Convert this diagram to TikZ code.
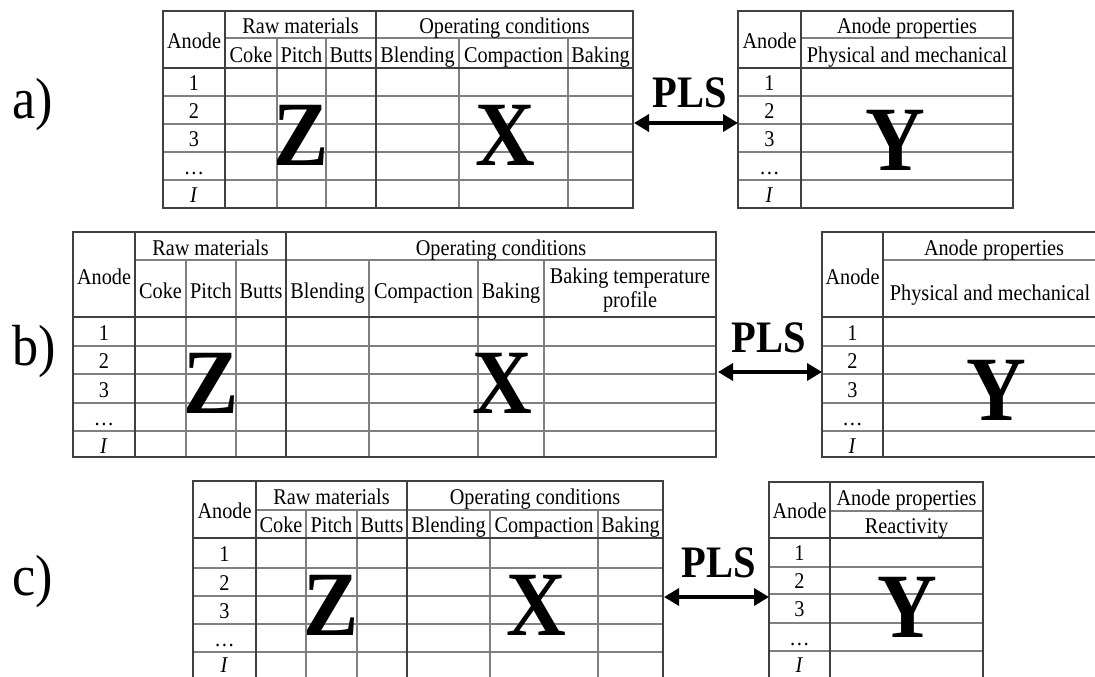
\documentclass[tikz,border=0pt]{standalone}
\usepackage{fontspec}
\setmainfont[FakeStretch=0.9]{Liberation Serif}
\usepackage{tikz}
\usetikzlibrary{arrows.meta, positioning}

\tikzset{
  major/.style={line width=1.7pt, black!75},
  minor/.style={line width=1.1pt, black!50},
  cell/.style={font=\fontsize{22.5}{24}\selectfont, inner sep=0pt, text height=15pt, text depth=0pt},
  twoline/.style={font=\fontsize{22.5}{24}\selectfont, inner sep=0pt, align=center},
  bigletter/.style={font=\fontsize{92}{92}\selectfont\bfseries, inner sep=0pt, anchor=base},
  plslabel/.style={font=\fontsize{45}{45}\selectfont\bfseries, inner sep=0pt, anchor=base},
  panel/.style={font=\fontsize{58}{58}\selectfont, inner sep=0pt},
  link/.style={{Triangle[length=15pt,width=17pt]}-{Triangle[length=15pt,width=17pt]}, line width=3.5pt},
}

\begin{document}
\begin{tikzpicture}[x=1pt, y=-1pt]
  \useasboundingbox (0,0) rectangle (1095,677);
  \clip (0,0) rectangle (1095,677);

  %% ---------------- a) ----------------
  \node[panel] (aLabel) at (33,105) {a)};
  %% input table
  \draw[minor] (225,38) -- (633,38);
  \foreach \x in {277,326,459,568} \draw[minor] (\x,38) -- (\x,208);
  \foreach \y in {96,124,152,180} \draw[minor] (163,\y) -- (633,\y);
  \draw[major] (163,68) -- (633,68);
  \draw[major] (225,11) -- (225,208);
  \draw[major] (376,11) -- (376,208);
  \draw[major] (163,11) rectangle (633,208);
  \node[cell] (aAnode) at (194,41) {Anode};
  \node[cell] (aRaw) at (300.5,26) {Raw materials};
  \node[cell] (aOper) at (504.5,26) {Operating conditions};
  \node[cell] (aCoke) at (251,55) {Coke};
  \node[cell] (aPitch) at (301.5,55) {Pitch};
  \node[cell] (aButts) at (351,55) {Butts};
  \node[cell] (aBlend) at (417.5,55) {Blending};
  \node[cell] (aCompact) at (513.5,55) {Compaction};
  \node[cell] (aBake) at (600.5,55) {Baking};
  \foreach \y/\t [count=\i] in {83/1, 111/2, 139/3, 167/{\dots}, 195/{\textit{I}}}
    \node[cell] (aRow\i) at (194,\y) {\t};
  \node[bigletter] (aZ) at (301,165) {Z};
  \node[bigletter] (aX) at (505,165) {X};
  %% output table
  \draw[minor] (801,38) -- (1013,38);
  \foreach \y in {96,124,152,180} \draw[minor] (738,\y) -- (1013,\y);
  \draw[major] (738,68) -- (1013,68);
  \draw[major] (801,11) -- (801,208);
  \draw[major] (738,11) rectangle (1013,208);
  \node[cell] (aAnodeR) at (769.5,41) {Anode};
  \node[cell] (aProp) at (907,26) {Anode properties};
  \node[cell] (aPhys) at (907,55) {Physical and mechanical};
  \foreach \y/\t [count=\i] in {83/1, 111/2, 139/3, 167/{\dots}, 195/{\textit{I}}}
    \node[cell] (aRowR\i) at (769.5,\y) {\t};
  \node[bigletter] (aY) at (895,170) {Y};
  %% PLS link
  \coordinate (aIn) at (634,123);
  \coordinate (aOut) at (738,123);
  \draw[link] (aIn) -- (aOut);
  \node[plslabel] (aPLS) at (690,107) {PLS};

  %% ---------------- b) ----------------
  \node[panel] (bLabel) at (34,352) {b)};
  %% input table
  \draw[minor] (135,260) -- (716,260);
  \foreach \x in {186,236,369,478,544} \draw[minor] (\x,260) -- (\x,457);
  \foreach \y in {346,374,403,431} \draw[minor] (73,\y) -- (716,\y);
  \draw[major] (73,317) -- (716,317);
  \draw[major] (135,232) -- (135,457);
  \draw[major] (286,232) -- (286,457);
  \draw[major] (73,232) rectangle (716,457);
  \node[cell] (bAnode) at (104,277) {Anode};
  \node[cell] (bRaw) at (210.5,248) {Raw materials};
  \node[cell] (bOper) at (501,248) {Operating conditions};
  \node[cell] (bCoke) at (160.5,291) {Coke};
  \node[cell] (bPitch) at (211,291) {Pitch};
  \node[cell] (bButts) at (261,291) {Butts};
  \node[cell] (bBlend) at (327.5,291) {Blending};
  \node[cell] (bCompact) at (423.5,291) {Compaction};
  \node[cell] (bBake) at (511,291) {Baking};
  \node[twoline] (bProfile) at (630,290) {Baking temperature\\profile};
  \foreach \y/\t [count=\i] in {333/1, 361/2, 390/3, 418/{\dots}, 446/{\textit{I}}}
    \node[cell] (bRow\i) at (104,\y) {\t};
  \node[bigletter] (bZ) at (211,413) {Z};
  \node[bigletter] (bX) at (502,413) {X};
  %% output table
  \draw[minor] (883,260) -- (1105,260);
  \foreach \y in {346,374,403,431} \draw[minor] (822,\y) -- (1105,\y);
  \draw[major] (822,317) -- (1105,317);
  \draw[major] (883,232) -- (883,457);
  \draw[major] (822,232) rectangle (1105,457);
  \node[cell] (bAnodeR) at (852.5,277) {Anode};
  \node[cell] (bProp) at (994,248) {Anode properties};
  \node[cell] (bPhys) at (990,293) {Physical and mechanical};
  \foreach \y/\t [count=\i] in {333/1, 361/2, 390/3, 418/{\dots}, 446/{\textit{I}}}
    \node[cell] (bRowR\i) at (852.5,\y) {\t};
  \node[bigletter] (bY) at (996,420) {Y};
  %% PLS link
  \coordinate (bIn) at (718,372);
  \coordinate (bOut) at (822,372);
  \draw[link] (bIn) -- (bOut);
  \node[plslabel] (bPLS) at (769,352) {PLS};

  %% ---------------- c) ----------------
  \node[panel] (cLabel) at (33,582) {c)};
  %% input table
  \draw[minor] (256,510) -- (663,510);
  \foreach \x in {306,357,490,598} \draw[minor] (\x,510) -- (\x,681);
  \foreach \y in {568,596,624,652} \draw[minor] (193,\y) -- (663,\y);
  \draw[major] (193,538) -- (663,538);
  \draw[major] (256,481) -- (256,681);
  \draw[major] (407,481) -- (407,681);
  \draw[major] (193,481) rectangle (663,681);
  \node[cell] (cAnode) at (224.5,511) {Anode};
  \node[cell] (cRaw) at (331.5,497) {Raw materials};
  \node[cell] (cOper) at (535,497) {Operating conditions};
  \node[cell] (cCoke) at (281,525) {Coke};
  \node[cell] (cPitch) at (331.5,525) {Pitch};
  \node[cell] (cButts) at (382,525) {Butts};
  \node[cell] (cBlend) at (448.5,525) {Blending};
  \node[cell] (cCompact) at (544,525) {Compaction};
  \node[cell] (cBake) at (630.5,525) {Baking};
  \foreach \y/\t [count=\i] in {554/1, 583/2, 611/3, 639/{\dots}, 665/{\textit{I}}}
    \node[cell] (cRow\i) at (224.5,\y) {\t};
  \node[bigletter] (cZ) at (331,635) {Z};
  \node[bigletter] (cX) at (536,635) {X};
  %% output table
  \draw[minor] (830,511) -- (983,511);
  \foreach \y in {567,594,623,651} \draw[minor] (769,\y) -- (983,\y);
  \draw[major] (769,538) -- (983,538);
  \draw[major] (830,482) -- (830,681);
  \draw[major] (769,482) rectangle (983,681);
  \node[cell] (cAnodeR) at (799.5,511) {Anode};
  \node[cell] (cProp) at (906.5,498) {Anode properties};
  \node[cell] (cReact) at (906.5,526) {Reactivity};
  \foreach \y/\t [count=\i] in {553/1, 581/2, 609/3, 638/{\dots}, 665/{\textit{I}}}
    \node[cell] (cRowR\i) at (799.5,\y) {\t};
  \node[bigletter] (cY) at (907,637) {Y};
  %% PLS link
  \coordinate (cIn) at (664,597);
  \coordinate (cOut) at (769,597);
  \draw[link] (cIn) -- (cOut);
  \node[plslabel] (cPLS) at (719,577) {PLS};
\end{tikzpicture}
\end{document}
